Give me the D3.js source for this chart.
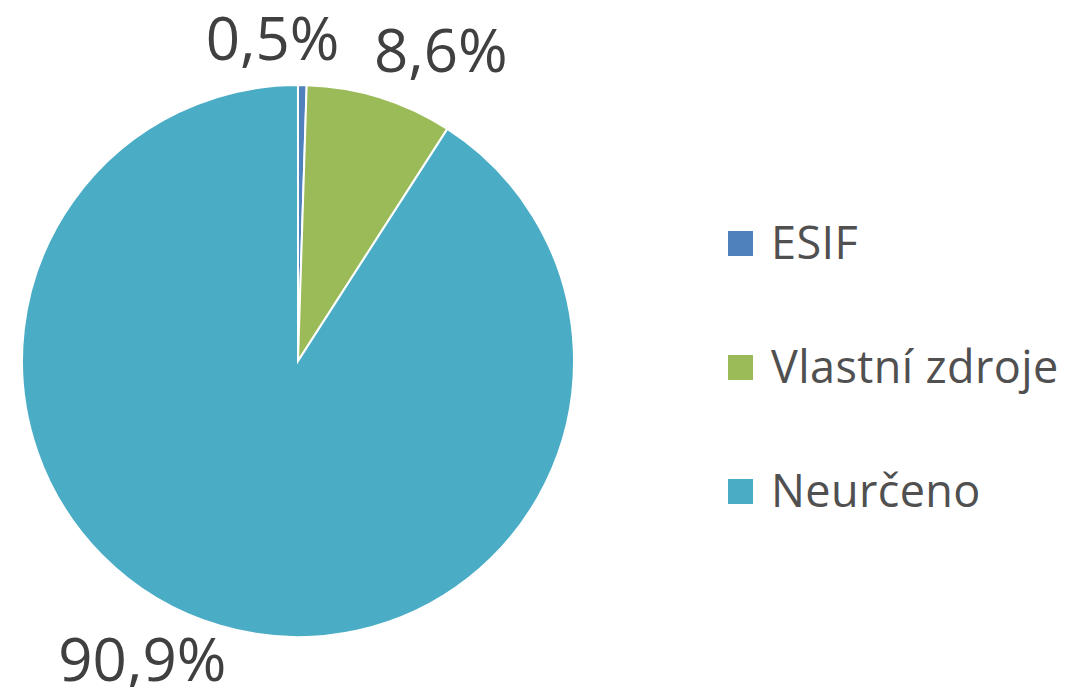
<!DOCTYPE html>
<html>
    <head>
        <meta charset="utf-8">
        <script src="https://d3js.org/d3.v7.min.js"></script>
        <style>
            body { margin: 0; background: #fff; }
            text { font-family: 'Open Sans', sans-serif; }
        </style>
    </head>
    <body>
    <script>
        var categories= ['ESIF', 'Vlastní zdroje', 'Neurčeno']
        var values= [0.5, 8.6, 90.9]
        var colors= ['#4F81BD', '#9BBB59', '#4BACC6']

        var w= 1068
        var h= 687
        var cx= 298
        var cy= 361
        var r= 276

        var data= categories.map(function(c, i){
            return { name: c, value: values[i], color: colors[i] }
        })

        var svg= d3.select('body').append('svg')
            .attr('width', w)
            .attr('height', h)

        var pie= d3.pie().sort(null).value(function(d){ return d.value })
        var arcs= pie(data)

        var arcGen= d3.arc().innerRadius(0).outerRadius(r)
        var labelArc= d3.arc().innerRadius(r + 10).outerRadius(r + 10)

        var g= svg.append('g').attr('transform', 'translate(' + cx + ',' + cy + ')')

        g.selectAll('path')
            .data(arcs)
            .enter()
            .append('path')
            .attr('d', arcGen)
            .attr('fill', function(d){ return d.data.color })
            .attr('stroke', '#fff')
            .attr('stroke-width', 2)

        function fmt(v){ return d3.format('.1f')(v).replace('.', ',') + '%' }

        // outside labels, placed by side of the pie like Excel does
        g.selectAll('text.lbl')
            .data(arcs)
            .enter()
            .append('text')
            .attr('class', 'lbl')
            .attr('font-size', 60)
            .attr('fill', '#404040')
            .each(function(d, i){
                var p= labelArc.centroid(d)
                var mid= (d.startAngle + d.endAngle) / 2
                var t= d3.select(this).text(fmt(d.data.value))
                if (d.data.value < 2) {
                    // tiny slice: label lifted above and nudged left
                    t.attr('x', p[0] - 30).attr('y', p[1] - 15).attr('text-anchor', 'middle')
                } else if (mid < Math.PI) {
                    t.attr('x', p[0] - 9).attr('y', p[1] - 16).attr('text-anchor', 'start')
                } else {
                    t.attr('x', p[0] + 9).attr('y', p[1] + 46).attr('text-anchor', 'end')
                }
            })

        var legend= svg.append('g').attr('transform', 'translate(728,0)')
        var ly= d3.scalePoint().domain(categories).range([244, 492])

        var items= legend.selectAll('g')
            .data(data)
            .enter()
            .append('g')
            .attr('transform', function(d){ return 'translate(0,' + ly(d.name) + ')' })

        items.append('rect')
            .attr('x', 0)
            .attr('y', -13)
            .attr('width', 25)
            .attr('height', 25)
            .attr('fill', function(d){ return d.color })

        items.append('text')
            .attr('x', 43)
            .attr('y', 15)
            .attr('font-size', 45)
            .attr('letter-spacing', 0.4)
            .attr('fill', '#505050')
            .text(function(d){ return d.name })
    </script>
    </body>
</html>
